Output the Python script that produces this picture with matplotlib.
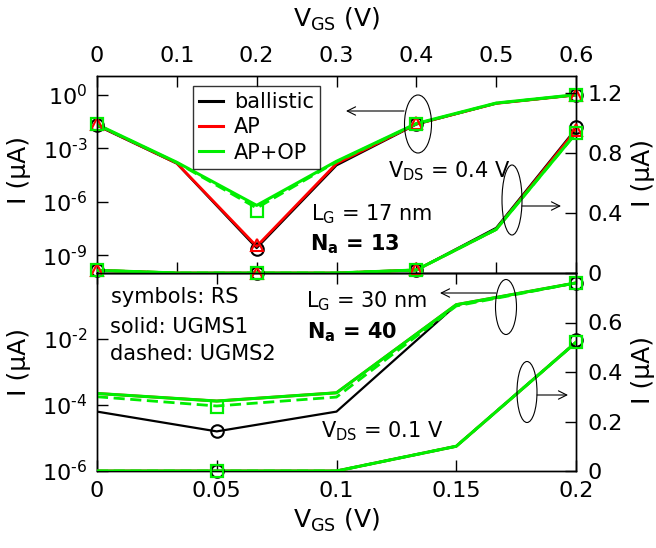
import numpy as np
import matplotlib
matplotlib.use("Agg")
import matplotlib.pyplot as plt
from matplotlib.patches import Ellipse, FancyArrowPatch
from matplotlib.lines import Line2D

plt.rcParams['font.family'] = ['DejaVu Sans']
plt.rcParams['mathtext.fontset'] = 'dejavusans'

# ---------------- data ----------------
# Top panel: L_G = 17 nm, V_DS = 0.4 V
vgs_top = [0.0, 0.1, 0.2, 0.3, 0.4, 0.5, 0.6]
top_log_ballistic = [10**-1.72, 10**-3.85, 10**-8.6, 10**-3.95, 10**-1.65, 10**-0.47, 10**0.0]
top_log_ap = [10**-1.68, 10**-3.83, 10**-8.5, 10**-3.85, 10**-1.63, 10**-0.47, 10**0.0]
top_log_apop = [10**-1.65, 10**-3.78, 10**-6.2, 10**-3.72, 10**-1.6, 10**-0.45, 10**0.02]
top_log_apop_d = [10**-1.67, 10**-3.8, 10**-6.35, 10**-3.75, 10**-1.62, 10**-0.46, 10**0.01]
top_lin_ballistic = [0.018, 0.0, 0.0, 0.0, 0.02, 0.30, 0.96]
top_lin_ap = [0.018, 0.0, 0.0, 0.0, 0.02, 0.29, 0.95]
top_lin_apop = [0.018, 0.0, 0.0, 0.0, 0.02, 0.29, 0.93]
top_lin_apop_d = [0.018, 0.0, 0.0, 0.0, 0.02, 0.29, 0.93]
# RS symbols (top)
vgs_top_sym = [0.0, 0.2, 0.4, 0.6]
top_sym_log_ballistic = [10**-1.7, 10**-8.65, 10**-1.65, 10**0.0]
top_sym_log_ap = [10**-1.62, 10**-8.45, 10**-1.55, 10**0.0]
top_sym_log_apop = [10**-1.65, 10**-6.5, 10**-1.63, 10**0.0]
top_sym_lin_ballistic = [0.018, 0.0, 0.02, 0.97]
top_sym_lin_ap = [0.02, 0.0, 0.025, 0.95]
top_sym_lin_apop = [0.018, 0.0, 0.02, 0.93]

# Bottom panel: L_G = 30 nm, V_DS = 0.1 V
vgs_bot = [0.0, 0.05, 0.1, 0.15, 0.2]
bot_log_ballistic = [10**-4.2, 10**-4.8, 10**-4.2, 10**-0.97, 10**-0.3]
bot_log_ap = [10**-3.65, 10**-3.88, 10**-3.63, 10**-0.96, 10**-0.3]
bot_log_apop = [10**-3.65, 10**-3.88, 10**-3.63, 10**-0.96, 10**-0.3]
bot_log_apop_d = [10**-3.75, 10**-4.03, 10**-3.76, 10**-1.0, 10**-0.3]
bot_lin_ballistic = [0.0, 0.0, 0.0, 0.10, 0.52]
bot_lin_ap = [0.0, 0.0, 0.0, 0.10, 0.52]
bot_lin_apop = [0.0, 0.0, 0.0, 0.10, 0.52]
bot_lin_apop_d = [0.0, 0.0, 0.0, 0.10, 0.52]
vgs_bot_sym = [0.05, 0.2]
bot_sym_log_ballistic = [10**-4.8, 10**-0.3]
bot_sym_log_apop = [10**-4.06, 10**-0.3]
bot_sym_lin_ballistic = [0.0, 0.53]
bot_sym_lin_apop = [0.0, 0.52]

top_xticks = [0, 0.1, 0.2, 0.3, 0.4, 0.5, 0.6]
top_xlabels = ['0', '0.1', '0.2', '0.3', '0.4', '0.5', '0.6']
bot_xticks = [0, 0.05, 0.1, 0.15, 0.2]
bot_xlabels = ['0', '0.05', '0.1', '0.15', '0.2']
top_lticks = [1e0, 1e-3, 1e-6, 1e-9]
top_llabels = [r'$10^{\text{0}}$', r'$10^{\text{-3}}$', r'$10^{\text{-6}}$', r'$10^{\text{-9}}$']
top_rticks = [0, 0.4, 0.8, 1.2]
top_rlabels = ['0', '0.4', '0.8', '1.2']
bot_lticks = [1e-6, 1e-4, 1e-2]
bot_llabels = [r'$10^{\text{-6}}$', r'$10^{\text{-4}}$', r'$10^{\text{-2}}$']
bot_rticks = [0, 0.2, 0.4, 0.6]
bot_rlabels = ['0', '0.2', '0.4', '0.6']

# ---------------- figure ----------------
W, H = 656, 548
fig = plt.figure(figsize=(W / 100, H / 100), dpi=100)

def F(x, y):
    return (x / W, 1 - y / H)

L, R = 97, 576
ax1 = fig.add_axes([L / W, 1 - 273 / H, (R - L) / W, 197 / H])
ax2 = fig.add_axes([L / W, 1 - 471 / H, (R - L) / W, 198 / H])
ax1r = ax1.twinx()
ax2r = ax2.twinx()

BLACK, RED, GREEN = 'black', '#ff0000', '#00ee00'
TFS = 16

def draw_lines(a, x, b, ap, o, od):
    a.plot(x, b, color=BLACK, lw=1.6, zorder=3)
    a.plot(x, ap, color=RED, lw=2.0, zorder=4)
    a.plot(x, od, color=GREEN, lw=2.0, ls=(0, (4, 2)), zorder=5)
    a.plot(x, o, color=GREEN, lw=2.2, zorder=6)

def draw_syms(a, xs, sb, so, sa=None):
    a.plot(xs, sb, ls='none', marker='o', ms=9, mfc='none', mec=BLACK, mew=1.5, zorder=7, clip_on=False)
    if sa is not None:
        a.plot(xs, sa, ls='none', marker='^', ms=8, mfc='none', mec=RED, mew=1.5, zorder=8, clip_on=False)
    a.plot(xs, so, ls='none', marker='s', ms=8, mfc='none', mec=GREEN, mew=1.6, zorder=9, clip_on=False)

draw_lines(ax1, vgs_top, top_log_ballistic, top_log_ap, top_log_apop, top_log_apop_d)
draw_lines(ax1r, vgs_top, top_lin_ballistic, top_lin_ap, top_lin_apop, top_lin_apop_d)
draw_syms(ax1, vgs_top_sym, top_sym_log_ballistic, top_sym_log_apop, top_sym_log_ap)
draw_syms(ax1r, vgs_top_sym, top_sym_lin_ballistic, top_sym_lin_apop, top_sym_lin_ap)

draw_lines(ax2, vgs_bot, bot_log_ballistic, bot_log_ap, bot_log_apop, bot_log_apop_d)
draw_lines(ax2r, vgs_bot, bot_lin_ballistic, bot_lin_ap, bot_lin_apop, bot_lin_apop_d)
draw_syms(ax2, vgs_bot_sym, bot_sym_log_ballistic, bot_sym_log_apop)
draw_syms(ax2r, vgs_bot_sym, bot_sym_lin_ballistic, bot_sym_lin_apop)

# axes setup
ax1.set_yscale('log')
ax1.set_ylim(1e-10, 10**1.07)
ax1.set_xlim(0, 0.6)
ax1.set_xticks(top_xticks, labels=top_xlabels)
ax1.set_yticks(top_lticks, labels=top_llabels)
ax1.minorticks_off()
ax1.tick_params(axis='x', which='major', direction='in', length=8, width=1, top=True, bottom=True,
                labeltop=True, labelbottom=False, labelsize=TFS, pad=7)
ax1.tick_params(axis='y', which='major', direction='in', length=8, width=1, left=True, right=False,
                labelsize=TFS, pad=7)
ax1r.set_ylim(0, 1.31)
ax1r.set_yticks(top_rticks, labels=top_rlabels)
ax1r.tick_params(axis='y', direction='in', length=8, width=1, labelsize=TFS, pad=8)
ax1r.tick_params(axis='x', which='both', top=False, bottom=False, labeltop=False, labelbottom=False)

ax2.set_yscale('log')
ax2.set_ylim(1e-6, 1e0)
ax2.set_xlim(0, 0.2)
ax2.set_xticks(bot_xticks, labels=bot_xlabels)
ax2.set_yticks(bot_lticks, labels=bot_llabels)
ax2.minorticks_off()
ax2.tick_params(axis='x', which='major', direction='in', length=8, width=1, top=True, bottom=True,
                labeltop=False, labelbottom=True, labelsize=TFS, pad=7)
ax2.tick_params(axis='y', which='major', direction='in', length=8, width=1, left=True, right=False,
                labelsize=TFS, pad=7)
ax2r.set_ylim(0, 0.8)
ax2r.set_yticks(bot_rticks, labels=bot_rlabels)
ax2r.tick_params(axis='y', direction='in', length=8, width=1, labelsize=TFS, pad=8)
ax2r.tick_params(axis='x', which='both', top=False, bottom=False, labeltop=False, labelbottom=False)

for a in (ax1, ax2, ax1r, ax2r):
    for s in a.spines.values():
        s.set_linewidth(1.0)
    a.patch.set_visible(False)

# axis labels
ALFS = 18
fig.text(*F(337, 27), r'V$_{\mathrm{GS}}$ (V)', fontsize=ALFS, ha='center', va='baseline')
fig.text(*F(337, 528), r'V$_{\mathrm{GS}}$ (V)', fontsize=ALFS, ha='center', va='baseline')
fig.text(*F(19, 170), 'I (μA)', fontsize=ALFS, rotation=90, ha='center', va='center')
fig.text(*F(19, 362), 'I (μA)', fontsize=ALFS, rotation=90, ha='center', va='center')
fig.text(*F(643, 173), 'I (μA)', fontsize=ALFS, rotation=90, ha='center', va='center')
fig.text(*F(643, 370), 'I (μA)', fontsize=ALFS, rotation=90, ha='center', va='center')

# legend
handles = [Line2D([], [], color=BLACK, lw=2.2), Line2D([], [], color=RED, lw=2.2),
           Line2D([], [], color=GREEN, lw=2.2)]
leg = fig.legend(handles, ['ballistic', 'AP', 'AP+OP'], loc='upper left',
                 bbox_to_anchor=F(193, 86), fontsize=15, frameon=True, fancybox=False,
                 handlelength=1.15, handletextpad=0.5, labelspacing=0.25, borderpad=0.3,
                 borderaxespad=0.0)
leg.get_frame().set_edgecolor('black')
leg.get_frame().set_linewidth(1.0)

# annotation texts
AFS = 15
fig.text(*F(388, 177), r'V$_{\mathrm{DS}}$ = 0.4 V', fontsize=AFS, va='baseline')
fig.text(*F(311, 220), r'L$_{\mathrm{G}}$ = 17 nm', fontsize=AFS, va='baseline')
fig.text(*F(310, 250), r'$\mathbf{N_{a}}$ = 13', fontsize=AFS, fontweight='bold', va='baseline')
fig.text(*F(306, 307), r'L$_{\mathrm{G}}$ = 30 nm', fontsize=AFS, va='baseline')
fig.text(*F(307, 338), r'$\mathbf{N_{a}}$ = 40', fontsize=AFS, fontweight='bold', va='baseline')
fig.text(*F(321, 437), r'V$_{\mathrm{DS}}$ = 0.1 V', fontsize=AFS, va='baseline')
fig.text(*F(111, 303), 'symbols: RS', fontsize=AFS, va='baseline')
fig.text(*F(110, 333), 'solid: UGMS1', fontsize=AFS, va='baseline')
fig.text(*F(110, 360), 'dashed: UGMS2', fontsize=AFS, va='baseline')

# ellipses and arrows
def ell(cx, cy, w, h):
    e = Ellipse(F(cx, cy), w / W, h / H, transform=fig.transFigure, fill=False,
                edgecolor='black', lw=0.8, zorder=20)
    fig.add_artist(e)

def arr(x0, y0, x1, y1):
    fig.add_artist(FancyArrowPatch(F(x0, y0), F(x1, y1), transform=fig.transFigure,
                   arrowstyle='->,head_length=6,head_width=3', lw=0.8, color='black',
                   shrinkA=0, shrinkB=0, zorder=20))

ell(418, 124, 27, 58); arr(404, 111, 346, 111)
ell(512, 200, 20, 70); arr(522, 206, 561, 206)
ell(506, 307, 21, 55); arr(496, 293, 440, 293)
ell(527, 392, 20, 61); arr(537, 395, 568, 395)

fig.savefig('out.png', dpi=100)
